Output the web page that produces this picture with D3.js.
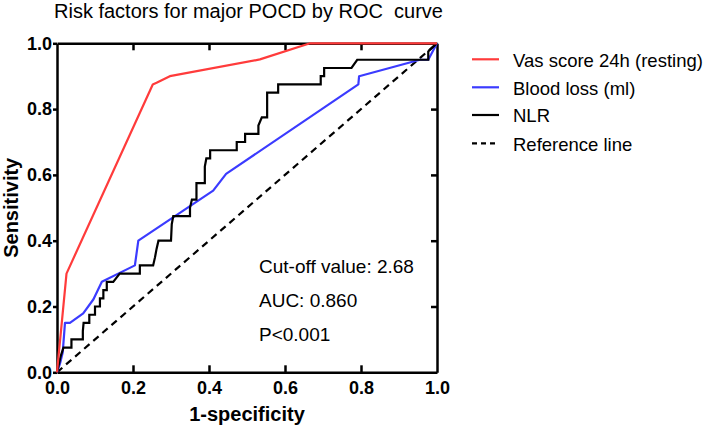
<!DOCTYPE html>
<html>
<head>
<meta charset="utf-8">
<script src="https://cdn.jsdelivr.net/npm/d3@7"></script>
<style>
  html, body { margin: 0; padding: 0; background: #fff; }
  svg { display: block; font-family: "Liberation Sans", Arial, sans-serif; }
</style>
</head>
<body>
<svg id="chart" width="709" height="428"></svg>
<script>
// ---- data ----
const title = "Risk factors for major POCD by ROC  curve";
const xTicks = [0, 0.2, 0.4, 0.6, 0.8, 1.0];
const yTicks = [0, 0.2, 0.4, 0.6, 0.8, 1.0];
const seriesNames = ["Vas score 24h (resting)", "Blood loss (ml)", "NLR", "Reference line"];
const seriesColors = ["#ff3b3b", "#3b3bff", "#000000", "#000000"];

const vasFpr  = [0, 0.004, 0.010, 0.025, 0.252, 0.262, 0.297, 0.534, 0.666, 1.0];
const vasTpr  = [0, 0.050, 0.120, 0.300, 0.875, 0.880, 0.900, 0.951, 1.0, 1.0];

const bloodFpr = [0, 0.008, 0.015, 0.021, 0.034, 0.069, 0.096, 0.118, 0.205, 0.214, 0.411, 0.445, 0.793, 0.795, 0.955, 0.977, 1.0];
const bloodTpr = [0, 0.027, 0.060, 0.150, 0.150, 0.179, 0.222, 0.275, 0.325, 0.400, 0.552, 0.603, 0.875, 0.900, 0.950, 0.950, 1.0];

const nlrFpr = [0, 0.010, 0.017, 0.038, 0.038, 0.068, 0.068, 0.070, 0.085, 0.085, 0.100, 0.100, 0.113, 0.113, 0.122, 0.122, 0.131, 0.131, 0.148, 0.165,
                0.218, 0.218, 0.253, 0.258, 0.262, 0.267, 0.300, 0.302, 0.306, 0.350, 0.350, 0.355, 0.367, 0.367, 0.389, 0.389, 0.393, 0.403, 0.403,
                0.473, 0.473, 0.495, 0.495, 0.530, 0.530, 0.539, 0.553, 0.553, 0.582, 0.582, 0.694, 0.694, 0.703, 0.703, 0.775, 0.790, 0.977, 0.977, 1.0];
const nlrTpr = [0, 0.050, 0.075, 0.075, 0.100, 0.100, 0.125, 0.150, 0.150, 0.175, 0.175, 0.200, 0.200, 0.225, 0.225, 0.250, 0.250, 0.275, 0.275, 0.300,
                0.300, 0.325, 0.325, 0.350, 0.375, 0.400, 0.400, 0.450, 0.475, 0.475, 0.500, 0.525, 0.525, 0.575, 0.575, 0.625, 0.650, 0.650, 0.675,
                0.675, 0.700, 0.700, 0.725, 0.725, 0.750, 0.775, 0.775, 0.850, 0.850, 0.875, 0.875, 0.900, 0.900, 0.925, 0.925, 0.950, 0.950, 0.975, 1.0];

const refFpr = [0, 1];
const refTpr = [0, 1];

const annotations = ["Cut-off value: 2.68", "AUC: 0.860", "P<0.001"];
const xLabel = "1-specificity";
const yLabel = "Sensitivity";

// ---- layout ----
const svg = d3.select("#chart");
const x = d3.scaleLinear().domain([0, 1]).range([57, 437]);
const y = d3.scaleLinear().domain([0, 1]).range([372.3, 43.3]);
const fmt = d3.format(".1f");

function styleAxis(g) {
  g.selectAll(".domain").attr("stroke", "#000").attr("stroke-width", 2.5);
  g.selectAll(".tick line").attr("stroke", "#000").attr("stroke-width", 2.5);
  g.selectAll(".tick text").attr("fill", "#000")
    .style("font-size", "18px").style("font-weight", "bold")
    .style("font-family", '"Liberation Sans", Arial, sans-serif');
}

// bottom axis (ticks inward)
svg.append("g").attr("transform", `translate(0,${y(0)})`)
  .call(d3.axisBottom(x).tickValues(xTicks).tickFormat(fmt).tickSizeInner(-7).tickSizeOuter(0).tickPadding(9))
  .call(styleAxis)
  .call(g => g.selectAll(".tick line").filter(d => d === 0 || d === 1).remove());

// top axis (ticks inward, no labels)
svg.append("g").attr("transform", `translate(0,${y(1)})`)
  .call(d3.axisTop(x).tickValues(xTicks.slice(1, -1)).tickFormat("").tickSizeInner(-7).tickSizeOuter(0))
  .call(styleAxis);

// left axis (ticks outward)
svg.append("g").attr("transform", `translate(${x(0)},0)`)
  .call(d3.axisLeft(y).tickValues(yTicks).tickFormat(fmt).tickSizeInner(4).tickSizeOuter(0).tickPadding(1))
  .call(styleAxis);

// right axis (ticks inward)
svg.append("g").attr("transform", `translate(${x(1)},0)`)
  .call(d3.axisRight(y).tickValues(yTicks.slice(1, -1)).tickFormat("").tickSizeInner(-6).tickSizeOuter(0))
  .call(styleAxis);

// curves
const line = d3.line().x(d => x(d[0])).y(d => y(d[1]));
function pts(a, b) { return a.map((v, i) => [v, b[i]]); }

svg.append("path").datum(pts(refFpr, refTpr)).attr("d", line)
  .attr("fill", "none").attr("stroke", seriesColors[3]).attr("stroke-width", 2.2).attr("stroke-dasharray", "7,5");
svg.append("path").datum(pts(bloodFpr, bloodTpr)).attr("d", line)
  .attr("fill", "none").attr("stroke", seriesColors[1]).attr("stroke-width", 2.2).attr("stroke-linejoin", "round");
svg.append("path").datum(pts(nlrFpr, nlrTpr)).attr("d", line)
  .attr("fill", "none").attr("stroke", seriesColors[2]).attr("stroke-width", 2.2);
svg.append("path").datum(pts(vasFpr, vasTpr)).attr("d", line)
  .attr("fill", "none").attr("stroke", seriesColors[0]).attr("stroke-width", 2.2).attr("stroke-linejoin", "round");

// title
svg.append("text").attr("x", 54).attr("y", 18.3).text(title)
  .style("font-size", "20px").style("white-space", "pre").attr("fill", "#000");

// axis labels
svg.append("text").attr("x", (x(0) + x(1)) / 2).attr("y", 421).attr("text-anchor", "middle")
  .style("font-size", "20px").style("font-weight", "bold").text(xLabel);
svg.append("text").attr("transform", `translate(17.5,${(y(0) + y(1)) / 2}) rotate(-90)`).attr("text-anchor", "middle")
  .style("font-size", "20px").style("font-weight", "bold").text(yLabel);

// annotations
const annY = [273.3, 307.3, 340.7];
annotations.forEach((t, i) => {
  svg.append("text").attr("x", 259).attr("y", annY[i]).style("font-size", "19px").text(t);
});

// legend
const legY = [59.3, 87.3, 115, 143.3];
seriesNames.forEach((n, i) => {
  svg.append("line").attr("x1", 472).attr("x2", 499).attr("y1", legY[i]).attr("y2", legY[i])
    .attr("stroke", seriesColors[i]).attr("stroke-width", 2.2)
    .attr("stroke-dasharray", i === 3 ? "5,4" : null);
  svg.append("text").attr("x", 513).attr("y", legY[i] + 7.2).style("font-size", "18.5px").text(n);
});
</script>
</body>
</html>
